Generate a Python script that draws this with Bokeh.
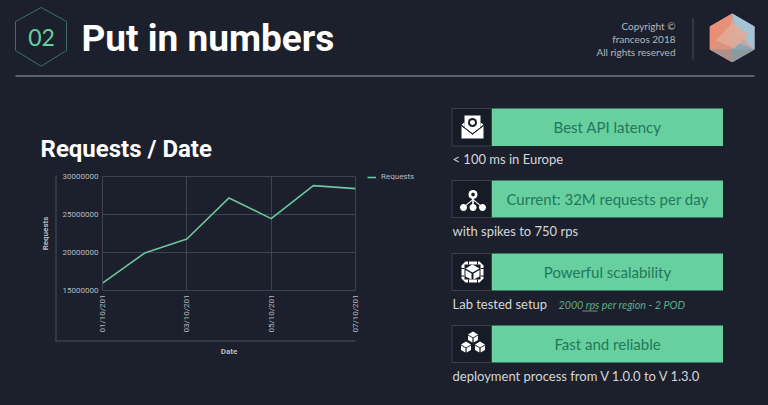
import math
from bokeh.plotting import figure
from bokeh.embed import file_html
from bokeh.resources import INLINE
from bokeh.core.properties import value
from bokeh.models import Range1d, FixedTicker, BasicTickFormatter, Legend, LegendItem

# ---- data ----
dates = ["01/10/201", "02/10/201", "03/10/201", "04/10/201", "05/10/201", "06/10/201", "07/10/201"]
requests = [15970000, 19930000, 21770000, 27180000, 24460000, 28800000, 28400000]
y_ticks = [15000000, 20000000, 25000000, 30000000]
x_tick_every = 2
series_name = "Requests"
x_title = "Date"
y_title = "Requests"

BG = "#1b202c"
GREEN = "#67d09e"
LINE = "#6cc79c"
GRID = "#3e434e"
TICK = "#b9bcc1"
WHITE = "#ffffff"
DARK = "#171b26"

# ---- page layer: one canvas in page pixels ----
bg = figure(width=768, height=405, output_backend="svg", toolbar_location=None,
            x_range=Range1d(0, 768), y_range=Range1d(405, 0), x_axis_type=None, y_axis_type=None,
            background_fill_color=BG, border_fill_color=BG, min_border=0, outline_line_color=None,
            styles={"position": "absolute", "left": "0px", "top": "0px"})
bg.grid.visible = False


def box(x0, y0, x1, y1, fill=None, line=None, lw=1):
    bg.quad(left=[x0], right=[x1], top=[y0], bottom=[y1], fill_color=fill, fill_alpha=1 if fill else 0,
            line_color=line, line_alpha=1 if line else 0, line_width=lw)


def poly(pts, fill=None, line=None, lw=1, fa=1.0):
    bg.patch([a for a, _ in pts], [b for _, b in pts], fill_color=fill, fill_alpha=fa if fill else 0,
             line_color=line, line_alpha=1 if line else 0, line_width=lw)


def circ(cx, cy, rad, fill):
    poly([(cx + rad * math.cos(i * math.pi / 8), cy + rad * math.sin(i * math.pi / 8)) for i in range(16)], fill=fill)


def text(x, y, s, size, color, font="Lato", style="normal", align="left", base="middle"):
    bg.text([x], [y], text=[s], text_font=value(font), text_font_size=f"{size}px", text_font_style=style,
            text_color=color, text_align=align, text_baseline=base)


# header
poly([(40.7, 7), (66, 21), (66, 50), (40.7, 65.7), (15, 50), (15, 21)], line="#3f6f68", lw=1)
text(41, 37, "02", 23, GREEN, align="center")
text(81, 38, "Put in numbers", 37, WHITE, font="Roboto", style="bold", base="alphabetic")
box(15, 75, 754, 76, fill="#9ea3aa")
box(692, 18, 693, 59, fill="#4a4f5a")
for yy, s in zip((25, 38, 51), ("Copyright ©", "franceos 2018", "All rights reserved")):
    text(675, yy, s, 10, "#b4b7bc", align="right")

# logo
cx, top, bot, l, rgt, u, d = 731.7, 13, 61.7, 709.3, 754, 26, 49
poly([(cx, top), (rgt, u), (rgt, d), (cx, bot), (l, d), (l, u)], fill="#c2aaa4")
poly([(cx, top), (l, u), (l, d), (cx - 3, 40)], fill="#e88f78")
poly([(cx, top), (rgt, u), (rgt, d), (cx + 4, 30)], fill="#a5c3d6")
poly([(l, d), (cx, 40), (cx, bot)], fill="#d9937f")
poly([(rgt, d), (cx, 40), (cx, bot)], fill="#8aa5b4")
poly([(cx, 22), (rgt - 6, 34), (cx + 2, 48), (l + 6, 40)], fill="#e3ab96", fa=0.85)
poly([(l, 49), (rgt, 49), (cx, bot)], fill="#8c8f92", fa=0.55)

# chart title and outer axes
text(40, 148, "Requests / Date", 24, WHITE, font="Roboto", style="bold", base="alphabetic")
box(55, 175, 56, 341, fill="#4a5158")
box(55, 340, 355, 341, fill="#4a5158")

# right rows
rows = [(108, 145.5, "Best API latency"), (180, 217, "Current: 32M requests per day"),
        (253, 290, "Powerful scalability"), (325, 362, "Fast and reliable")]
for y0, y1, s in rows:
    box(451.5, y0, 491, y1, fill=DARK, line="#3a3f4a")
    box(491.5, y0, 722.5, y1, fill=GREEN)
    text(607, (y0 + y1) / 2 - 0.5, s, 15, "#22785b", align="center")

subs = [(158.5, "< 100 ms in Europe"), (230.5, "with spikes to 750 rps"),
        (303.5, "Lab tested setup"), (375.5, "deployment process from V 1.0.0 to V 1.3.0")]
for yy, s in subs:
    text(452, yy, s, 13, "#d4d6d9")
text(558, 304, "2000 rps per region - 2 POD", 10.7, "#5fae88", style="italic")
box(582, 310, 597, 311, fill="#7d8a88")

# icon 1: envelope
poly([(464, 115), (480, 115), (480, 128), (472, 133), (464, 128)], fill=WHITE)
circ(472, 122, 4.5, DARK)
circ(472, 122, 2.5, WHITE)
poly([(461, 125), (472, 134), (483, 125), (483, 138), (461, 138)], fill=WHITE)
poly([(461, 124), (464, 122), (464, 127)], fill=WHITE)
poly([(483, 124), (480, 122), (480, 127)], fill=WHITE)
poly([(461, 125), (472, 133.5), (483, 125), (472, 133.5)], line=DARK, lw=1)
# icon 2: tree
for a, b, c, dd in [(472.5, 194, 472.5, 206), (472.5, 199, 464, 206), (472.5, 199, 481, 206)]:
    poly([(a - 0.8, b), (a + 0.8, b), (c + 0.8, dd), (c - 0.8, dd)], fill=WHITE)
circ(472.5, 194, 4.5, WHITE)
circ(472.5, 194, 1.8, DARK)
circ(463, 207, 3.5, WHITE)
circ(472.5, 207, 3.5, WHITE)
circ(482, 207, 3.5, WHITE)
# icon 3: cube in dotted frame
poly([(465, 261), (479, 261), (483, 265), (483, 278), (479, 282), (465, 282), (461, 278), (461, 265)], fill=WHITE)
poly([(464, 264), (480, 264), (480, 279), (464, 279)], fill=DARK)
for gx in (467.5, 476.5):
    box(gx, 260.5, gx + 1, 264, fill=DARK)
    box(gx, 279, gx + 1, 282.5, fill=DARK)
for gy in (267.5, 275):
    box(460.5, gy, 464, gy + 1, fill=DARK)
    box(480, gy, 483.5, gy + 1, fill=DARK)
poly([(472, 264), (479, 268), (472, 272), (465, 268)], fill=WHITE)
poly([(465, 269.5), (471, 273), (471, 279), (465, 276)], fill=WHITE)
poly([(479, 269.5), (473, 273), (473, 279), (479, 276)], fill=WHITE)
# icon 4: stacked cubes
for cxx, yy in [(472.5, 335), (465.5, 345), (479.5, 345)]:
    poly([(cxx, yy - 4), (cxx + 5, yy - 1), (cxx, yy + 2), (cxx - 5, yy - 1)], fill=WHITE)
    poly([(cxx - 5, yy), (cxx - 0.6, yy + 2.6), (cxx - 0.6, yy + 7), (cxx - 5, yy + 4.5)], fill=WHITE)
    poly([(cxx + 5, yy), (cxx + 0.6, yy + 2.6), (cxx + 0.6, yy + 7), (cxx + 5, yy + 4.5)], fill=WHITE)

# ---- chart layer ----
p = figure(frame_width=253, frame_height=114, output_backend="svg", toolbar_location=None,
           x_range=Range1d(0, len(dates) - 1), y_range=Range1d(y_ticks[0], y_ticks[-1]),
           background_fill_alpha=0, border_fill_alpha=0,
           min_border_left=72, min_border_right=0, min_border_top=11, min_border_bottom=75,
           styles={"position": "absolute", "left": "30px", "top": "165px"})
p.outline_line_color = GRID

x_idx = list(range(len(dates)))
tick_idx = x_idx[::x_tick_every]
p.xaxis.ticker = FixedTicker(ticks=tick_idx)
p.xaxis.major_label_overrides = {i: dates[i] for i in tick_idx}
p.xaxis.major_label_orientation = math.pi / 2
p.yaxis.ticker = FixedTicker(ticks=y_ticks)
p.yaxis.formatter = BasicTickFormatter(use_scientific=False)
for ax in (p.xaxis[0], p.yaxis[0]):
    ax.axis_line_color = GRID
    ax.major_tick_line_color = None
    ax.minor_tick_line_color = None
    ax.major_tick_out = 0
    ax.major_tick_in = 0
    ax.major_label_text_color = TICK
    ax.major_label_text_font = "Roboto"
    ax.major_label_text_font_size = "8px"
    ax.major_label_standoff = 4
    ax.axis_label_text_color = TICK
    ax.axis_label_text_font = "Roboto"
    ax.axis_label_text_font_size = "8px"
    ax.axis_label_text_font_style = "bold"
p.xaxis.axis_label = x_title
p.yaxis.axis_label = y_title
p.xaxis.axis_label_standoff = 11
p.yaxis.axis_label_standoff = 10
p.xgrid.ticker = FixedTicker(ticks=tick_idx)
p.ygrid.ticker = FixedTicker(ticks=y_ticks)
p.xgrid.grid_line_color = GRID
p.ygrid.grid_line_color = GRID

r = p.line(x_idx, requests, line_color=LINE, line_width=1.6)
legend = Legend(items=[LegendItem(label=series_name, renderers=[r])], location=(12, 109),
                background_fill_alpha=0, border_line_color=None,
                label_text_color=TICK, label_text_font="Roboto", label_text_font_size="8px",
                glyph_width=9, glyph_height=6, label_standoff=5, padding=0, margin=0)
p.add_layout(legend, "right")

html = file_html((bg, p), INLINE)
html = html.replace("</head>", f"<style>html,body{{margin:0;padding:0;background:{BG};overflow:hidden}}</style></head>", 1)
open("out.html", "w").write(html)
